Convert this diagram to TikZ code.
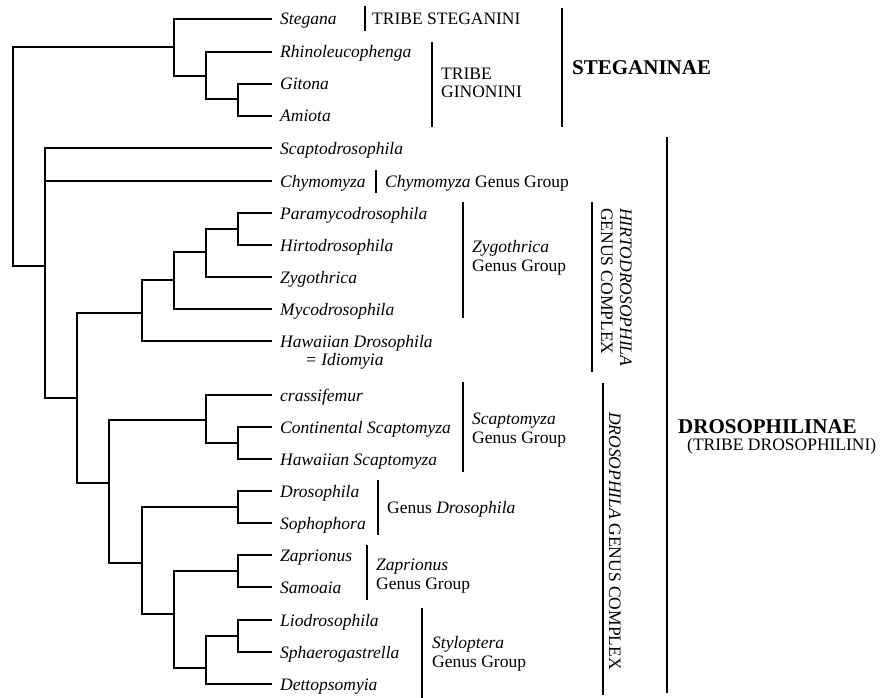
\documentclass[tikz,border=0pt]{standalone}
\usepackage{fontspec}
\setmainfont{Liberation Serif}
\begin{document}
\begin{tikzpicture}[x=1pt,y=-1pt,
  tree/.style={line width=2pt, line join=miter},
  bar/.style={line width=2pt},
  leaf/.style={anchor=base west, inner sep=0pt, font=\fontsize{17.5}{19}\selectfont\itshape},
  lab/.style={anchor=base west, inner sep=0pt, font=\fontsize{17.5}{19}\selectfont},
  big/.style={anchor=base west, inner sep=0pt, font=\fontsize{21}{24}\selectfont\bfseries},
  vlab/.style={rotate=-90, inner sep=0pt, font=\fontsize{17.5}{19}\selectfont}]
\useasboundingbox (0,0) rectangle (881,698);

% leaves
\foreach \n/\yy/\t in {L1/19/Stegana, L2/52/Rhinoleucophenga, L3/84/Gitona, L4/116/Amiota,
  L5/148/Scaptodrosophila, L6/181/Chymomyza, L7/213/Paramycodrosophila, L8/245/Hirtodrosophila,
  L9/277/Zygothrica, L10/309/Mycodrosophila, L11/341/Hawaiian Drosophila, L12/395/crassifemur,
  L13/427/Continental Scaptomyza, L14/459/Hawaiian Scaptomyza, L15/491/Drosophila,
  L16/523/Sophophora, L17/555/Zaprionus, L18/587/Samoaia, L19/620/Liodrosophila,
  L20/652/Sphaerogastrella, L21/684/Dettopsomyia}{
  \coordinate (\n) at (272,\yy);
  \node[leaf] (t\n) at (280,\yy+6) {\t};
}
\node[leaf] (tIdio) at (305,365) {= Idiomyia};

% internal nodes
\coordinate (root) at (13,156);
\coordinate (nSteg) at (174,47);
\coordinate (nRGA) at (206,76);
\coordinate (nGA) at (238,99);
\coordinate (nDroso) at (45,266);
\coordinate (nA) at (77,398);
\coordinate (nHir) at (142,313);
\coordinate (n174) at (174,280);
\coordinate (n206) at (206,252);
\coordinate (n238) at (238,229);
\coordinate (nDC) at (109,483);
\coordinate (nSc) at (206,420);
\coordinate (nCH) at (238,443);
\coordinate (nLow) at (142,563);
\coordinate (nDS) at (238,507);
\coordinate (n174b) at (174,614);
\coordinate (nZS) at (238,571);
\coordinate (n206b) at (206,668);
\coordinate (nLS) at (238,636);

\foreach \p/\c in {root/nSteg, root/nDroso, nSteg/L1, nSteg/nRGA, nRGA/L2, nRGA/nGA,
  nGA/L3, nGA/L4, nDroso/L5, nDroso/L6, nDroso/nA, nA/nHir, nA/nDC, nHir/n174, nHir/L11,
  n174/n206, n174/L10, n206/n238, n206/L9, n238/L7, n238/L8, nDC/nSc, nDC/nLow,
  nSc/L12, nSc/nCH, nCH/L13, nCH/L14, nLow/nDS, nLow/n174b, nDS/L15, nDS/L16,
  n174b/nZS, n174b/n206b, nZS/L17, nZS/L18, n206b/nLS, n206b/L21, nLS/L19, nLS/L20}{
  \draw[tree] (\p) |- (\c);
}

% brackets
\foreach \n/\x/\a/\b in {bSteg/365/6/31, bGin/432/42/127, bSteI/562/8/127, bChy/376/170/193,
  bZyg/463/202/318, bHir/592/202/372, bSca/463/382/472, bDro/378/480/535, bZap/367/545/600,
  bSty/422/608/698, bDC/603/383/695, bDrI/667/137/693}{
  \coordinate (\n a) at (\x,\a);
  \coordinate (\n b) at (\x,\b);
  \draw[bar] (\n a) -- (\n b);
}

% group labels
\node[lab] (tSteganini) at (372,25) {TRIBE STEGANINI};
\node[lab] (tGin1) at (441,80) {TRIBE};
\node[lab] (tGin2) at (441,98) {GINONINI};
\node[big] (tSteganinae) at (572,75) {STEGANINAE};
\node[lab] (tChy) at (385,187) {\textit{Chymomyza} Genus Group};
\node[lab] (tZyg1) at (472,252) {\textit{Zygothrica}};
\node[lab] (tZyg2) at (472,271) {Genus Group};
\node[lab] (tSca1) at (472,424) {\textit{Scaptomyza}};
\node[lab] (tSca2) at (472,443) {Genus Group};
\node[lab] (tDro) at (387,513) {Genus \textit{Drosophila}};
\node[lab] (tZap1) at (376,570) {\textit{Zaprionus}};
\node[lab] (tZap2) at (376,589) {Genus Group};
\node[lab] (tSty1) at (432,648) {\textit{Styloptera}};
\node[lab] (tSty2) at (432,667) {Genus Group};
\node[big] (tDrosInae) at (678,433) {DROSOPHILINAE};
\node[lab] (tTribeD) at (687,450) {(TRIBE DROSOPHILINI)};

\node[vlab, anchor=base west, font=\fontsize{17.5}{19}\selectfont\itshape] (tHir1) at (620,208) {HIRTODROSOPHILA};
\node[vlab, anchor=base west] (tHir2) at (601,208) {GENUS COMPLEX};
\node[vlab, anchor=base] (tDC) at (609,541) {\textit{DROSOPHILA} GENUS COMPLEX};
\end{tikzpicture}
\end{document}
